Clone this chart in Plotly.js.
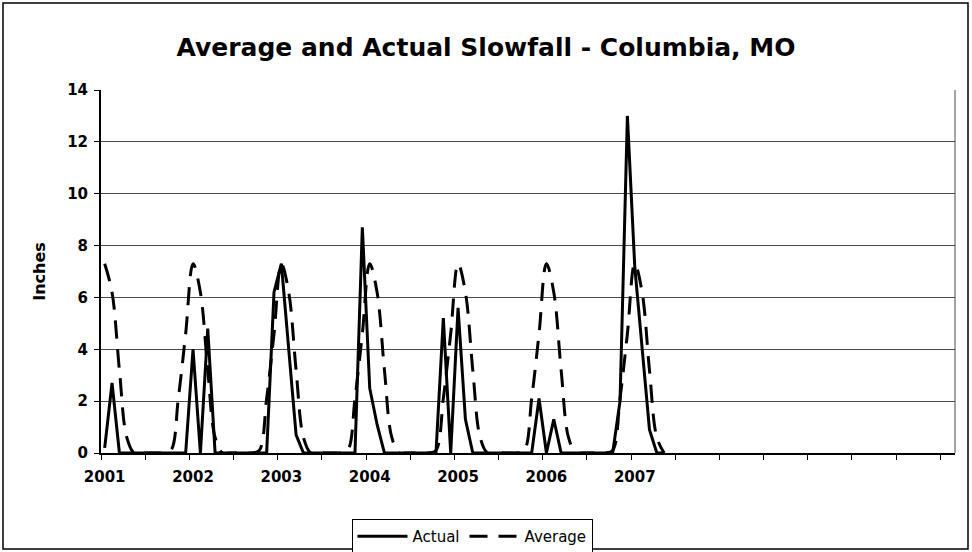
<!DOCTYPE html>
<html>
<head>
<meta charset="utf-8">
<script src="https://cdn.plot.ly/plotly-3.0.1.min.js"></script>
<style>
  html, body { margin: 0; padding: 0; background: #ffffff; }
  #chart { width: 972px; height: 552px; }
</style>
</head>
<body>
<div id="chart"></div>
<script>
// ---- Data (monthly snowfall, inches) ----
const years = ['2001', '2002', '2003', '2004', '2005', '2006', '2007'];
const monthNames = ['Jan', 'Feb', 'Mar', 'Apr', 'May', 'Jun', 'Jul', 'Aug', 'Sep', 'Oct', 'Nov', 'Dec'];

const actual2001 = [0.2, 2.7, 0, 0, 0, 0, 0, 0, 0, 0, 0, 0];
const actual2002 = [4.0, 0, 4.8, 0, 0, 0, 0, 0, 0, 0, 0, 6.2];
const actual2003 = [7.3, 4.0, 0.7, 0, 0, 0, 0, 0, 0, 0, 0, 8.7];
const actual2004 = [2.5, 1.1, 0, 0, 0, 0, 0, 0, 0, 0, 5.2, 0];
const actual2005 = [5.6, 1.3, 0, 0, 0, 0, 0, 0, 0, 0, 0, 2.1];
const actual2006 = [0, 1.3, 0, 0, 0, 0, 0, 0, 0, 0, 2.0, 13.0];
const actual2007 = [7.2, 4.1, 0.9, 0, 0];

const average2001 = [7.3, 6.2, 3.2, 0.6, 0, 0, 0, 0, 0, 0.1, 2.1, 4.6];
const average2002 = [7.3, 6.2, 3.2, 0.6, 0, 0, 0, 0, 0, 0.1, 2.1, 4.6];
const average2003 = [7.3, 6.2, 3.2, 0.6, 0, 0, 0, 0, 0, 0.1, 2.1, 4.6];
const average2004 = [7.3, 6.2, 3.2, 0.6, 0, 0, 0, 0, 0, 0.1, 2.1, 4.6];
const average2005 = [7.3, 6.2, 3.2, 0.6, 0, 0, 0, 0, 0, 0.1, 2.1, 4.6];
const average2006 = [7.3, 6.2, 3.2, 0.6, 0, 0, 0, 0, 0, 0.1, 2.1, 4.6];
const average2007 = [7.3, 6.2, 3.2, 0.6, 0];

const actualByYear = [actual2001, actual2002, actual2003, actual2004, actual2005, actual2006, actual2007];
const averageByYear = [average2001, average2002, average2003, average2004, average2005, average2006, average2007];

// number of monthly categories spanned by the category axis (Jan 2001 onward)
const categoryCount = 116;

// ---- Build month-index series (category positions along a linear axis) ----
function toSeries(byYear) {
  const x = [], y = [], text = [];
  byYear.forEach(function (vals, yi) {
    vals.forEach(function (v, mi) {
      x.push(yi * monthNames.length + mi);
      y.push(v);
      text.push(monthNames[mi] + ' ' + years[yi]);
    });
  });
  return { x: x, y: y, text: text };
}
const act = toSeries(actualByYear);
const avg = toSeries(averageByYear);

const FAMILY = 'DejaVu Sans, Verdana, Arial, sans-serif';
const tickFont = { family: FAMILY, size: 15, color: '#000000', weight: 700 };

const traces = [
  {
    x: act.x, y: act.y, text: act.text, name: 'Actual', type: 'scatter', mode: 'lines',
    line: { color: '#000000', width: 3 }
  },
  {
    x: avg.x, y: avg.y, text: avg.text, name: 'Average', type: 'scatter', mode: 'lines',
    line: { color: '#000000', width: 3, dash: '18px,11px', shape: 'spline', smoothing: 1 }
  }
];

const layout = {
  width: 972, height: 552,
  margin: { l: 101, r: 17, t: 90, b: 99, autoexpand: false },
  paper_bgcolor: '#ffffff', plot_bgcolor: '#ffffff',
  showlegend: true,
  title: {
    text: 'Average and Actual Slowfall - Columbia, MO',
    font: { family: FAMILY, size: 25, color: '#000000', weight: 700 },
    x: 0.5, xref: 'container', xanchor: 'center',
    y: 1 - 47 / 552, yref: 'container', yanchor: 'middle'
  },
  xaxis: {
    type: 'linear',
    range: [-0.5, categoryCount - 0.5],
    tickmode: 'array',
    tickvals: years.map(function (_, i) { return i * monthNames.length; }),
    ticktext: years,
    ticks: 'outside', ticklen: 5, tickcolor: 'rgba(0,0,0,0)',
    ticklabelstandoff: 4,
    tickfont: tickFont,
    showgrid: false, zeroline: false,
    showline: true, linecolor: '#000000', linewidth: 2,
    minor: { tick0: -0.5, dtick: 6, ticks: 'outside', ticklen: 5, tickcolor: '#000000', tickwidth: 1, showgrid: false },
    fixedrange: true
  },
  yaxis: {
    range: [0, 14], tick0: 0, dtick: 2,
    ticks: 'outside', ticklen: 5, tickcolor: '#000000', tickwidth: 1,
    ticklabelstandoff: 3,
    tickfont: tickFont,
    showgrid: true, gridcolor: '#4a4a4a', gridwidth: 1,
    zeroline: false,
    showline: true, linecolor: '#000000', linewidth: 2,
    title: { text: 'Inches', font: { family: FAMILY, size: 16, color: '#000000', weight: 700 }, standoff: 18 },
    fixedrange: true
  },
  legend: {
    orientation: 'h',
    x: (472 - 101) / 854, xanchor: 'center',
    y: -(519 - 453) / 363, yanchor: 'top',
    bordercolor: '#000000', borderwidth: 1, bgcolor: '#ffffff',
    font: { family: FAMILY, size: 15, color: '#000000' },
    itemwidth: 50
  },
  shapes: [
    // right border of plot area
    { type: 'line', xref: 'paper', yref: 'paper', x0: 1, x1: 1, y0: 0, y1: 1,
      line: { color: '#4a4a4a', width: 1 } },
    // outer chart frame
    { type: 'rect', xref: 'paper', yref: 'paper',
      x0: (3 - 101) / 854, x1: (968 - 101) / 854,
      y0: (453 - 549) / 363, y1: (453 - 3) / 363,
      line: { color: '#000000', width: 1.5 }, fillcolor: 'rgba(0,0,0,0)' }
  ]
};

Plotly.newPlot('chart', traces, layout, { staticPlot: true, displayModeBar: false });
</script>
</body>
</html>
